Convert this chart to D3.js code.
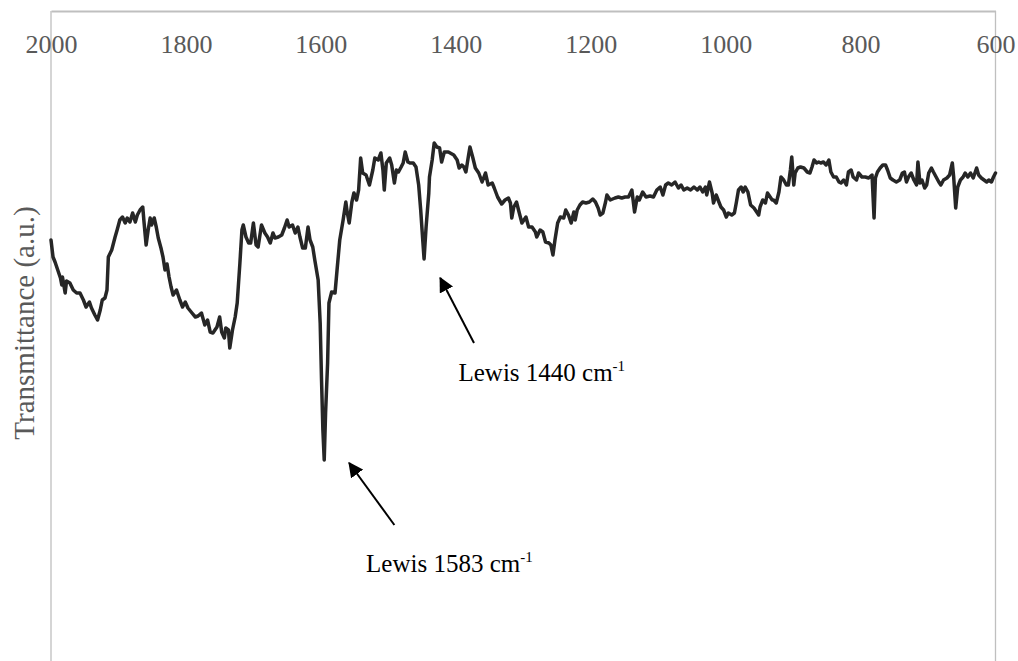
<!DOCTYPE html>
<html>
<head>
<meta charset="utf-8">
<script src="https://cdn.jsdelivr.net/npm/d3@7"></script>
<style>
  html, body { margin: 0; padding: 0; background: #ffffff; }
  svg { display: block; }
</style>
</head>
<body>
<svg id="chart" width="1018" height="661"></svg>
<script>
// Wavenumber (cm-1) of each sample, high to low
const wavenumbers = [
  2000,1997,1994,1989,1986,1984,1983,1979,1977,1972,1967,1962,1957,1952,1948,1943,1940,1935,1931,1927,
  1924,1920,1917,1915,1910,1905,1902,1898,1894,1890,1887,1883,1879,1875,1872,1868,1864,1862,1859,1856,
  1853,1851,1847,1844,1841,1837,1834,1831,1828,1825,1822,1819,1814,1809,1805,1801,1797,1791,1786,1782,
  1777,1772,1768,1764,1760,1757,1754,1750,1747,1743,1741,1737,1735,1731,1727,1724,1720,1717,1715,1711,
  1707,1704,1700,1696,1693,1688,1683,1679,1675,1671,1668,1663,1658,1654,1650,1647,1642,1638,1634,1631,
  1627,1623,1619,1616,1612,1609,1604,1601,1599,1597,1595,1593,1590,1588,1584,1579,1576,1572,1567,1563,
  1561,1558,1554,1551,1547,1544,1541,1538,1533,1528,1523,1520,1515,1511,1508,1506,1503,1498,1495,1491,
  1488,1485,1481,1478,1475,1471,1468,1463,1459,1455,1452,1449,1447,1444,1440,1439,1435,1432,1428,1424,
  1421,1417,1411,1403,1398,1395,1391,1388,1385,1381,1379,1375,1371,1366,1361,1356,1352,1346,1343,1338,
  1332,1327,1322,1319,1317,1314,1310,1307,1302,1299,1296,1292,1287,1282,1280,1275,1271,1267,1262,1259,
  1256,1253,1249,1245,1240,1237,1233,1229,1225,1223,1220,1216,1212,1207,1202,1197,1193,1189,1186,1182,
  1178,1176,1171,1164,1159,1154,1149,1144,1139,1135,1131,1128,1123,1118,1112,1107,1102,1097,1093,1089,
  1085,1080,1075,1070,1066,1062,1057,1052,1047,1042,1038,1034,1030,1028,1024,1020,1018,1014,1010,1007,
  1003,999,996,991,987,984,981,977,974,971,967,963,958,954,951,949,945,941,938,934,
  931,929,925,921,918,914,910,907,904,902,899,897,893,889,884,879,875,872,869,865,
  862,859,855,851,847,844,840,836,832,829,825,821,818,814,811,806,803,798,793,788,
  783,780,778,775,771,767,763,760,756,752,747,742,738,735,732,729,725,721,717,715,
  712,709,705,702,699,695,692,688,684,681,677,672,668,664,662,659,656,652,648,645,
  641,637,633,628,625,621,617,613,610,606,603,600
];

// Transmittance (arbitrary units) at each wavenumber above
const transmittance = [
  42.1,40.4,39.9,38.9,38.3,37.6,38.4,36.8,38.0,37.8,37.1,36.8,36.8,36.1,35.4,35.9,35.3,34.6,34.1,35.1,
  36.1,36.3,37.1,40.4,41.1,42.4,43.1,44.1,44.4,43.8,44.3,43.9,44.8,43.9,44.6,45.1,45.4,43.8,41.6,43.1,
  44.3,43.6,44.3,43.4,42.3,41.3,40.4,39.1,39.7,38.4,37.4,36.6,37.1,36.1,35.4,35.9,35.3,34.8,34.4,34.5,
  34.8,33.6,34.1,32.9,32.8,33.1,33.4,34.4,32.9,32.3,33.3,33.1,31.3,33.1,34.4,35.8,39.8,43.1,43.6,42.4,
  41.8,41.8,43.8,41.6,41.4,43.6,42.8,42.4,41.8,42.8,42.3,42.4,42.6,43.3,44.1,43.4,43.6,42.8,43.4,42.4,
  41.3,41.3,43.4,42.1,41.4,40.1,38.1,33.8,28.1,23.1,20.1,24.8,29.8,35.8,36.9,36.8,39.1,42.1,44.1,45.9,
  44.9,43.8,45.9,46.8,46.1,47.1,50.3,48.8,48.6,47.6,49.1,50.3,50.1,50.8,49.1,47.1,49.8,50.3,49.6,47.8,
  49.1,48.9,49.4,49.8,50.9,49.9,49.8,49.8,49.4,47.6,45.1,42.1,40.2,43.4,46.8,48.4,50.1,51.8,51.4,51.3,
  49.9,50.9,50.9,50.6,50.1,49.3,49.6,49.4,48.9,50.6,51.4,50.4,49.3,48.8,47.9,48.8,47.6,47.8,47.3,46.4,
  45.7,46.1,46.3,45.8,44.3,45.4,45.9,45.1,43.8,44.1,44.4,43.4,43.4,42.9,42.4,43.1,42.9,41.9,41.8,41.6,
  40.6,42.1,43.8,44.4,44.3,45.1,44.6,43.8,44.9,44.1,45.1,45.6,45.9,45.8,45.9,46.2,45.9,45.3,44.6,44.8,
  45.9,46.6,46.1,46.3,46.4,46.3,46.4,46.4,47.1,44.9,46.4,46.1,46.9,46.4,46.5,46.4,47.1,47.4,46.6,47.6,
  47.8,47.6,47.9,47.3,47.6,47.1,47.3,47.1,47.4,47.1,47.4,46.9,47.4,46.6,47.9,46.8,45.8,46.6,45.9,45.4,
  45.1,44.4,44.8,44.6,44.8,45.9,47.1,47.4,46.9,47.4,46.9,45.6,45.3,44.9,44.6,45.4,46.1,45.8,46.8,46.4,
  46.1,46.1,45.8,46.9,48.4,48.1,47.6,47.6,49.1,50.4,47.6,48.8,49.3,49.4,49.3,48.9,48.8,49.4,50.1,49.8,
  49.9,49.8,49.9,49.6,50.1,48.9,48.4,48.4,47.9,47.8,48.1,47.6,48.9,49.1,48.4,48.1,48.8,48.4,48.4,48.3,
  48.6,44.3,48.3,48.9,49.3,49.6,49.6,49.1,48.3,48.1,47.9,48.1,48.8,48.9,47.9,48.4,48.8,48.1,47.6,49.9,
  47.8,48.1,47.3,47.6,48.8,49.3,48.9,48.4,47.9,47.6,48.1,48.3,48.6,49.8,48.4,45.3,47.4,48.1,48.4,48.8,
  48.4,48.8,48.3,49.3,48.6,48.3,48.1,47.9,48.1,47.9,48.4,48.8
];

// Axis tick labels
const xTicks = [2000, 1800, 1600, 1400, 1200, 1000, 800, 600];

// Band annotations: label, arrow tip and tail, label anchor (data units)
const bandLabels = ["Lewis 1440 cm", "Lewis 1583 cm"];
const bandSup = ["-1", "-1"];
const arrowTipW = [1423, 1558];
const arrowTipT = [38.3, 19.8];
const arrowTailW = [1373, 1491];
const arrowTailT = [31.8, 13.6];
const labelW = [1396, 1533];
const labelT = [28.0, 8.9];

const svg = d3.select("#chart");
const plotLeft = 51, plotRight = 995.5, plotTop = 11, plotBottom = 661;

const x = d3.scaleLinear().domain([2000, 600]).range([plotLeft, plotRight]);
const y = d3.scaleLinear().domain([0, 65]).range([plotBottom, plotTop]);

const data = wavenumbers.map((w, i) => ({ w, t: transmittance[i] }));

// Frame: left and right verticals
svg.append("line")
  .attr("x1", plotLeft).attr("x2", plotLeft).attr("y1", plotTop).attr("y2", plotBottom)
  .attr("stroke", "#bfbfbf").attr("stroke-width", 1.3);
svg.append("line")
  .attr("x1", plotRight).attr("x2", plotRight).attr("y1", plotTop).attr("y2", plotBottom)
  .attr("stroke", "#bfbfbf").attr("stroke-width", 1.3);

// Top wavenumber axis with labels hanging below the line
const xAxis = svg.append("g")
  .attr("transform", `translate(0,${plotTop})`)
  .call(d3.axisBottom(x).tickValues(xTicks).tickSize(0).tickSizeOuter(0).tickFormat(d3.format("d")));
xAxis.select(".domain").attr("stroke", "#bfbfbf").attr("stroke-width", 2);
xAxis.selectAll("text")
  .attr("dy", null)
  .attr("y", 42)
  .attr("fill", "#595959")
  .style("font-family", "'Liberation Serif', 'Times New Roman', serif")
  .style("font-size", "26px");

// Y axis title
svg.append("text")
  .attr("transform", `translate(34,323) rotate(-90)`)
  .attr("text-anchor", "middle")
  .attr("fill", "#595959")
  .style("font-family", "'Liberation Serif', 'Times New Roman', serif")
  .style("font-size", "29px")
  .text("Transmittance (a.u.)");

// Spectrum
const line = d3.line().x(d => x(d.w)).y(d => y(d.t));
svg.append("path")
  .datum(data)
  .attr("d", line)
  .attr("fill", "none")
  .attr("stroke", "#262626")
  .attr("stroke-width", 3.5)
  .attr("stroke-linejoin", "round")
  .attr("stroke-linecap", "round");

// Arrowhead marker
svg.append("defs").append("marker")
  .attr("id", "head")
  .attr("viewBox", "0 0 10 10")
  .attr("refX", 9).attr("refY", 5)
  .attr("markerWidth", 7.5).attr("markerHeight", 7.5)
  .attr("markerUnits", "strokeWidth")
  .attr("orient", "auto")
  .append("path")
  .attr("d", "M0,0 L10,5 L0,10 Z")
  .attr("fill", "#000");

bandLabels.forEach((label, i) => {
  svg.append("line")
    .attr("x1", x(arrowTailW[i])).attr("y1", y(arrowTailT[i]))
    .attr("x2", x(arrowTipW[i])).attr("y2", y(arrowTipT[i]))
    .attr("stroke", "#000").attr("stroke-width", 2)
    .attr("marker-end", "url(#head)");

  const t = svg.append("text")
    .attr("x", x(labelW[i])).attr("y", y(labelT[i]))
    .attr("fill", "#000")
    .style("font-family", "'Liberation Serif', 'Times New Roman', serif")
    .style("font-size", "25px");
  t.append("tspan").text(label);
  t.append("tspan")
    .attr("dy", -10)
    .style("font-size", "15px")
    .text(bandSup[i]);
});
</script>
</body>
</html>
